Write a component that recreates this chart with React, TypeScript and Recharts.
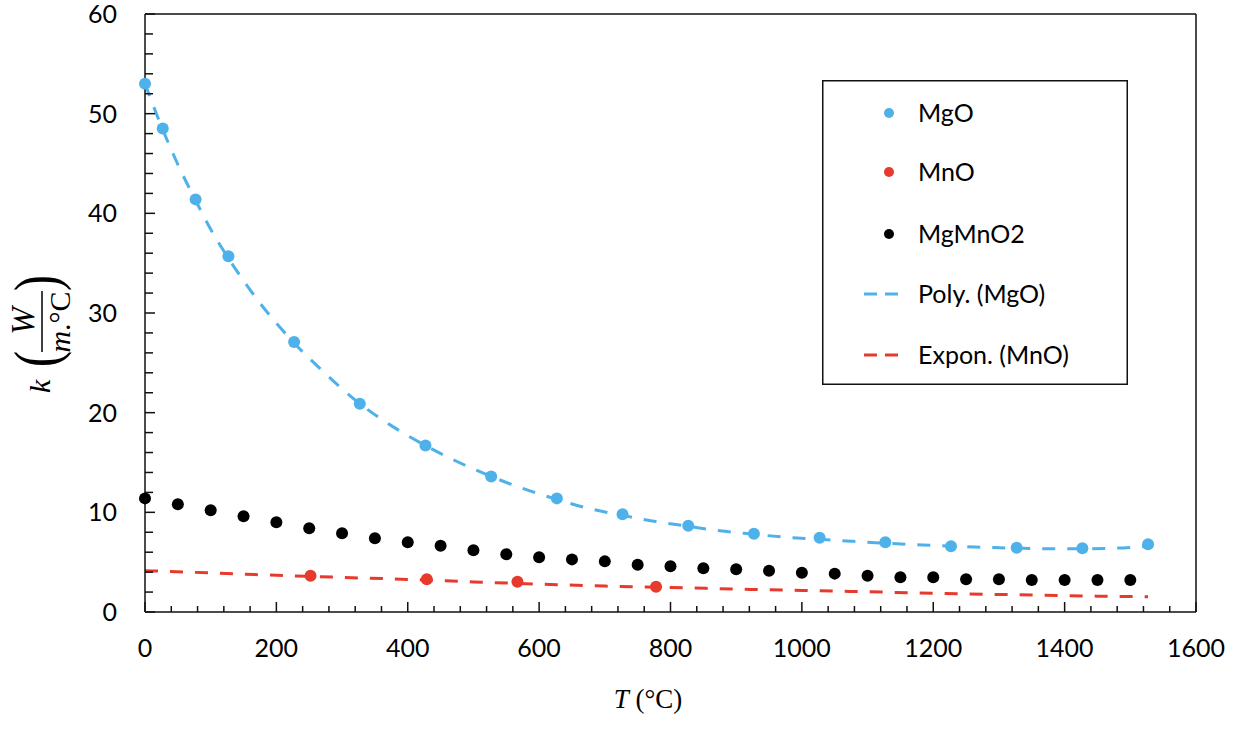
import React from "react";
import { ComposedChart, Line, Scatter, XAxis, YAxis, ReferenceLine, Legend } from "recharts";

// measured points (T in °C, k in W/m.°C)
const MGO_T = [0, 27, 77, 127, 227, 327, 427, 527, 627, 727, 827, 927, 1027, 1127, 1227, 1327, 1427, 1527];
const MGO_K = [53.0, 48.5, 41.4, 35.7, 27.1, 20.9, 16.7, 13.6, 11.4, 9.8, 8.65, 7.85, 7.45, 7.0, 6.6, 6.45, 6.4, 6.8];

const MNO_T = [252, 429, 567, 778];
const MNO_K = [3.64, 3.28, 3.04, 2.54];

const MGMNO2_T = [
  0, 50, 100, 150, 200, 250, 300, 350, 400, 450, 500, 550, 600, 650, 700, 750,
  800, 850, 900, 950, 1000, 1050, 1100, 1150, 1200, 1250, 1300, 1350, 1400, 1450, 1500,
];
const MGMNO2_K = [
  11.4, 10.8, 10.2, 9.6, 9.0, 8.4, 7.9, 7.4, 7.0, 6.65, 6.2, 5.8, 5.5, 5.28, 5.08, 4.75,
  4.6, 4.4, 4.28, 4.14, 3.94, 3.85, 3.64, 3.48, 3.48, 3.28, 3.28, 3.2, 3.2, 3.2, 3.2,
];

// trendlines
const POLY_T = [0, 27, 50, 77, 100, 127, 175, 227, 275, 327, 375, 427, 475, 527, 575, 627, 675, 727, 775, 827, 875, 927, 975, 1027, 1075, 1127, 1175, 1227, 1275, 1327, 1375, 1427, 1475, 1527];
const POLY_K = [53.0, 48.4, 44.9, 41.3, 38.4, 35.5, 31.0, 27.0, 23.9, 20.9, 18.7, 16.7, 15.1, 13.6, 12.4, 11.3, 10.4, 9.7, 9.1, 8.6, 8.15, 7.8, 7.5, 7.3, 7.1, 6.9, 6.75, 6.6, 6.5, 6.4, 6.35, 6.35, 6.4, 6.6];

const EXPON_T = [0, 100, 200, 300, 400, 500, 600, 700, 800, 900, 1000, 1100, 1200, 1300, 1400, 1527];
const EXPON_K = [4.15, 3.92, 3.68, 3.47, 3.27, 3.02, 2.8, 2.6, 2.46, 2.3, 2.16, 2.03, 1.88, 1.76, 1.64, 1.53];

const X_LABELS = [0, 200, 400, 600, 800, 1000, 1200, 1400, 1600];
const Y_LABELS = [0, 10, 20, 30, 40, 50, 60];
const X_TICKS = Array.from({ length: 41 }, (_, i) => i * 40);
const Y_TICKS = Array.from({ length: 31 }, (_, i) => i * 2);

const LEGEND_NAMES = ["MgO", "MnO", "MgMnO2", "Poly. (MgO)", "Expon. (MnO)"];

const BLUE = "#4EB1EA";
const RED = "#E8392D";
const INK = "#111";
const FONT = "Lato, 'Open Sans', sans-serif";
const MATH = "'Liberation Serif', 'DejaVu Serif', serif";
const FS = 25;

const toPts = (ts: number[], ks: number[]) => ts.map((t, i) => ({ t, k: ks[i] }));
const mgo = toPts(MGO_T, MGO_K);
const mno = toPts(MNO_T, MNO_K);
const mgmno2 = toPts(MGMNO2_T, MGMNO2_K);
const poly = toPts(POLY_T, POLY_K);
const expon = toPts(EXPON_T, EXPON_K);

const dot = (fill: string) => (p: any) => <circle cx={p.cx} cy={p.cy} r={6} fill={fill} />;

function XTick(props: any) {
  const { x, y, payload } = props;
  const major = X_LABELS.includes(payload.value);
  return (
    <g>
      <line x1={x} x2={x} y1={y} y2={y - (major ? 10 : 6)} stroke={INK} strokeWidth={1.5} />
      {major && (
        <text x={x} y={y + 45} textAnchor="middle" fontFamily={FONT} fontSize={FS} fill="#000">
          {payload.value}
        </text>
      )}
    </g>
  );
}

function YTick(props: any) {
  const { x, y, payload } = props;
  const major = Y_LABELS.includes(payload.value);
  return (
    <g>
      <line x1={x} x2={x + (major ? 10 : 8)} y1={y} y2={y} stroke={INK} strokeWidth={1.5} />
      {major && (
        <text x={x - 28} y={y + 9} textAnchor="end" fontFamily={FONT} fontSize={FS} fill="#000">
          {payload.value}
        </text>
      )}
    </g>
  );
}

function YTitle() {
  return (
    <g transform="translate(42,395) rotate(-90)" fontFamily={MATH} fill="#000">
      <text x={2} y={8} fontStyle="italic" fontSize={30}>k</text>
      <g transform="translate(36,0) scale(1,1.3)">
        <text x={0} y={12} textAnchor="middle" fontSize={48}>(</text>
      </g>
      <text x={74} y={-8} textAnchor="middle" fontStyle="italic" fontSize={33}>W</text>
      <line x1={43} x2={104} y1={0} y2={0} stroke="#000" strokeWidth={1.5} />
      <text x={73} y={28} textAnchor="middle" fontSize={30}>
        <tspan fontStyle="italic">m</tspan>.°C
      </text>
      <g transform="translate(112,0) scale(1,1.3)">
        <text x={0} y={12} textAnchor="middle" fontSize={48}>)</text>
      </g>
    </g>
  );
}

function XTitle() {
  return (
    <text x={648} y={708} textAnchor="middle" fontFamily={MATH} fontSize={27} fill="#000">
      <tspan fontStyle="italic">T</tspan> (°C)
    </text>
  );
}

function LegendBox() {
  const rowY = [33, 92, 154, 214, 275];
  const colors = [BLUE, RED, "#000", BLUE, RED];
  return (
    <svg width={306} height={305} style={{ display: "block" }}>
      <rect x={0.75} y={0.75} width={304.5} height={303.5} fill="#fff" stroke={INK} strokeWidth={1.5} />
      {LEGEND_NAMES.map((name, i) => (
        <g key={name}>
          {i < 3 ? (
            <circle cx={67} cy={rowY[i]} r={5} fill={colors[i]} />
          ) : (
            <line x1={42} x2={83} y1={rowY[i]} y2={rowY[i]} stroke={colors[i]} strokeWidth={3} strokeDasharray="13 8" />
          )}
          <text x={96} y={rowY[i] + 9} fontFamily={FONT} fontSize={FS} fill="#000">
            {name}
          </text>
        </g>
      ))}
    </svg>
  );
}

export default function App() {
  return (
    <div style={{ position: "absolute", left: 0, top: 0, width: 1234, height: 731, background: "#fff" }}>
      <ComposedChart width={1234} height={731} margin={{ top: 14, right: 38, bottom: 59, left: 0 }}>
        <XAxis
          dataKey="t"
          type="number"
          domain={[0, 1600]}
          ticks={X_TICKS}
          interval={0}
          tickSize={0}
          tickMargin={0}
          tickLine={false}
          tick={<XTick />}
          height={60}
          axisLine={{ stroke: INK, strokeWidth: 1.5 }}
          label={<XTitle />}
        />
        <YAxis
          dataKey="k"
          type="number"
          domain={[0, 60]}
          ticks={Y_TICKS}
          interval={0}
          tickSize={0}
          tickMargin={0}
          tickLine={false}
          tick={<YTick />}
          width={145}
          axisLine={{ stroke: INK, strokeWidth: 1.5 }}
          label={<YTitle />}
        />
        <ReferenceLine y={60} stroke={INK} strokeWidth={1.5} />
        <ReferenceLine x={1600} stroke={INK} strokeWidth={1.5} />
        <Legend
          layout="vertical"
          align="center"
          verticalAlign="middle"
          wrapperStyle={{ position: "absolute", left: 822, top: 80, width: 306, height: 305 }}
          content={() => <LegendBox />}
        />
        <Scatter name="MgO" data={mgo} dataKey="k" shape={dot(BLUE)} isAnimationActive={false} />
        <Scatter name="MnO" data={mno} dataKey="k" shape={dot(RED)} isAnimationActive={false} />
        <Scatter name="MgMnO2" data={mgmno2} dataKey="k" shape={dot("#000")} isAnimationActive={false} />
        <Line
          name="Poly. (MgO)"
          data={poly}
          dataKey="k"
          type="monotone"
          stroke={BLUE}
          strokeWidth={3}
          strokeDasharray="13 12"
          dot={false}
          activeDot={false}
          isAnimationActive={false}
        />
        <Line
          name="Expon. (MnO)"
          data={expon}
          dataKey="k"
          type="monotone"
          stroke={RED}
          strokeWidth={3}
          strokeDasharray="13 12"
          dot={false}
          activeDot={false}
          isAnimationActive={false}
        />
      </ComposedChart>
    </div>
  );
}
